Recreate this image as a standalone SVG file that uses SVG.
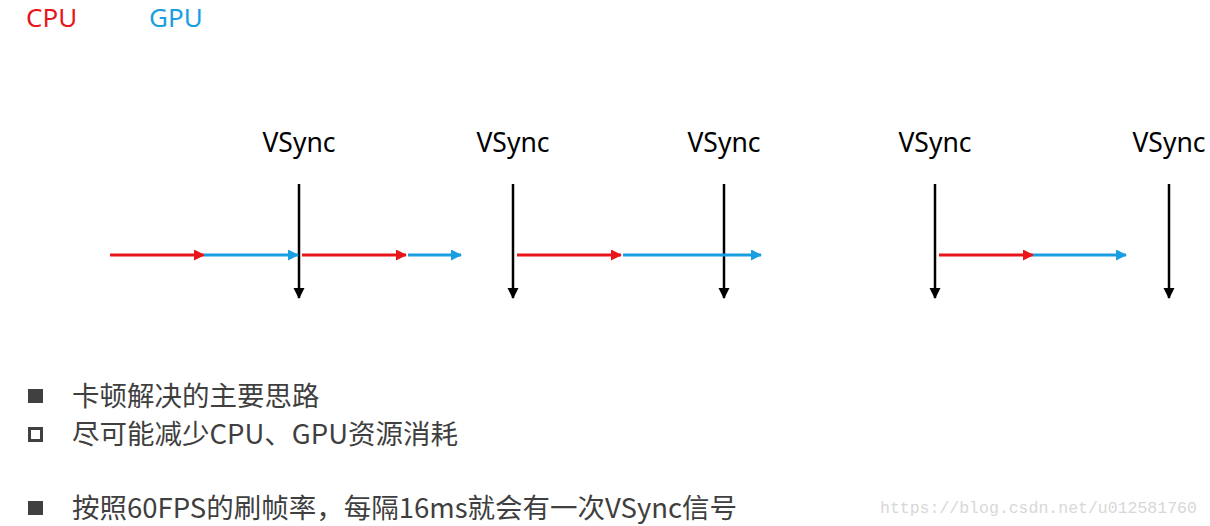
<svg xmlns="http://www.w3.org/2000/svg" width="1210" height="526" viewBox="0 0 1210 526">
<style>
.lbl{font-family:"Noto Sans","Open Sans",sans-serif;font-size:26.5px;fill:#000;text-anchor:middle}
.leg{font-family:"Noto Sans","Open Sans",sans-serif;font-size:26px}
.txt{font-family:"Noto Sans CJK SC","Noto Sans",sans-serif;font-size:27.5px;fill:#3f3f3f}
.vs{stroke:#000;stroke-width:2.5;fill:none;marker-end:url(#mk)}
.cpu{stroke:#e8161b;stroke-width:3;fill:none;marker-end:url(#mr)}
.gpu{stroke:#1a9ee2;stroke-width:3;fill:none;marker-end:url(#mb)}
</style>
<defs>
<marker id="mk" markerWidth="12" markerHeight="12" refX="10" refY="5.5" orient="auto" markerUnits="userSpaceOnUse"><path d="M0,0 L11,5.5 L0,11 Z" fill="#000"/></marker>
<marker id="mr" markerWidth="12" markerHeight="12" refX="10" refY="5.5" orient="auto" markerUnits="userSpaceOnUse"><path d="M0,0 L11,5.5 L0,11 Z" fill="#e8161b"/></marker>
<marker id="mb" markerWidth="12" markerHeight="12" refX="10" refY="5.5" orient="auto" markerUnits="userSpaceOnUse"><path d="M0,0 L11,5.5 L0,11 Z" fill="#1a9ee2"/></marker>
</defs>
<rect width="1210" height="526" fill="#fff"/>
<g id="legend">
<text class="leg" x="26" y="27" fill="#e8161b">CPU</text>
<text class="leg" x="149" y="27" fill="#1a9ee2">GPU</text>
</g>
<g id="vsync1"><text class="lbl" x="299" y="152">VSync</text></g>
<g id="vsync2"><text class="lbl" x="513" y="152">VSync</text></g>
<g id="vsync3"><text class="lbl" x="724" y="152">VSync</text></g>
<g id="vsync4"><text class="lbl" x="935" y="152">VSync</text></g>
<g id="vsync5"><text class="lbl" x="1169" y="152">VSync</text></g>
<g id="connectors">
<line class="vs" x1="299" y1="184" x2="299" y2="298"/>
<line class="vs" x1="513" y1="184" x2="513" y2="298"/>
<line class="vs" x1="724" y1="184" x2="724" y2="298"/>
<line class="vs" x1="935" y1="184" x2="935" y2="298"/>
<line class="vs" x1="1169" y1="184" x2="1169" y2="298"/>
<line class="cpu" x1="110" y1="255" x2="204" y2="255"/>
<line class="gpu" x1="204" y1="255" x2="298" y2="255"/>
<line class="cpu" x1="302" y1="255" x2="406" y2="255"/>
<line class="gpu" x1="408" y1="255" x2="461" y2="255"/>
<line class="cpu" x1="517" y1="255" x2="621" y2="255"/>
<line class="gpu" x1="623" y1="255" x2="761" y2="255"/>
<line class="cpu" x1="939" y1="255" x2="1033" y2="255"/>
<line class="gpu" x1="1033" y1="255" x2="1126" y2="255"/>
</g>
<g id="bullets">
<rect x="28" y="389" width="15" height="14" fill="#404040"/>
<text class="txt" x="72" y="406">卡顿解决的主要思路</text>
<rect x="29.5" y="428.5" width="12" height="12" fill="none" stroke="#404040" stroke-width="3"/>
<text class="txt" x="72" y="444">尽可能减少CPU、GPU资源消耗</text>
<rect x="28" y="501" width="15" height="14" fill="#404040"/>
<text class="txt" x="72" y="518">按照60FPS的刷帧率，每隔16ms就会有一次VSync信号</text>
</g>
<text x="880" y="513" font-family="Liberation Mono,monospace" font-size="16.5" fill="#d8d8d8">https://blog.csdn.net/u012581760</text>
</svg>
